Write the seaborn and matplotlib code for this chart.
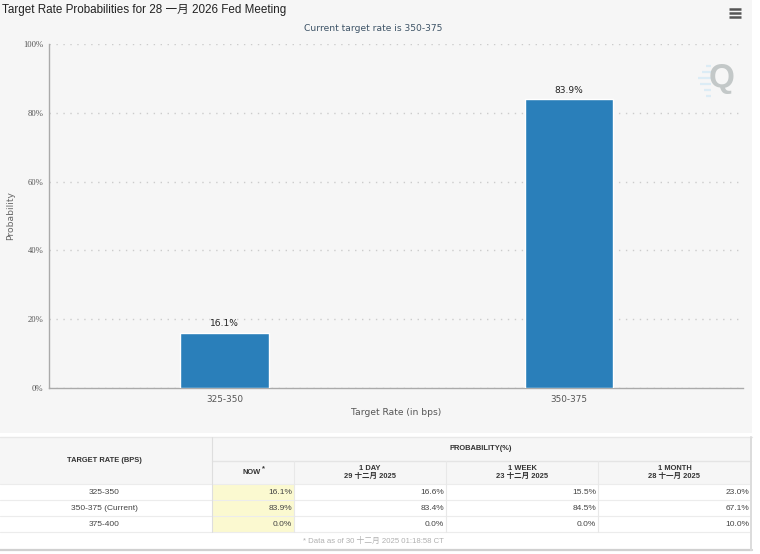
#!/usr/bin/env python3
"""Target rate probabilities bar chart with the table under it."""

import matplotlib
matplotlib.use("Agg")
import matplotlib.pyplot as plt
from matplotlib.patches import Rectangle
import pandas as pd
import seaborn as sns

W, H = 760, 554
CJK = ["Liberation Sans", "Noto Sans CJK SC", "DejaVu Sans"]

# -------------------------------
# Data
# -------------------------------
rates = ["325-350", "350-375"]
probs = [16.1, 83.9]
yticks = [0, 20, 40, 60, 80, 100]

table_rates = ["325-350", "350-375 (Current)", "375-400"]
now_vals = ["16.1%", "83.9%", "0.0%"]
day_vals = ["16.6%", "83.4%", "0.0%"]
week_vals = ["15.5%", "84.5%", "0.0%"]
month_vals = ["23.0%", "67.1%", "10.0%"]
col_heads = ["1 DAY\n29 十二月 2025", "1 WEEK\n23 十二月 2025", "1 MONTH\n28 十一月 2025"]

sns.set_theme(style="white")
plt.rcParams["font.family"] = ["DejaVu Sans", "Noto Sans CJK SC"]

fig = plt.figure(figsize=(W / 100, H / 100), dpi=100, facecolor="white")

# pixel overlay for the panel, the table and the icons
bg = fig.add_axes([0, 0, 1, 1], zorder=0)
bg.set_xlim(0, W)
bg.set_ylim(H, 0)
bg.axis("off")
bg.add_patch(Rectangle((0, 0), 752, 433, fc="#f6f6f6", ec="none"))

# -------------------------------
# Bars
# -------------------------------
ax = fig.add_axes([49 / W, 1 - 388 / H, 694 / W, 344 / H], zorder=1)
ax.patch.set_alpha(0)
df = pd.DataFrame({"rate": rates, "prob": probs})
sns.barplot(data=df, x="rate", y="prob", color="#2a7fba", saturation=1, width=0.256, ax=ax, zorder=3)
ax.set_xlim(-0.51, 1.507)
ax.set_ylim(0, 100)
ax.set_yticks(yticks)
ax.set_yticklabels([f"{t}%" for t in yticks], fontsize=6.2, color="#555555", family="Liberation Serif")
ax.tick_params(axis="y", length=3, width=0.8, color="#aaaaaa", pad=1)
ax.tick_params(axis="x", length=0, pad=5, labelsize=6.4, labelcolor="#555555")
ax.set_xlabel("Target Rate (in bps)", fontsize=6.6, color="#555555", labelpad=3)
ax.set_ylabel("Probability", fontsize=6.6, color="#666666")
ax.yaxis.set_label_coords(-34 / 694, 0.5)
ax.grid(axis="y", color="#cccccc", linestyle=(0, (1, 4)), linewidth=1, zorder=0)
sns.despine(ax=ax)
for s in ["left", "bottom"]:
    ax.spines[s].set_color("#aaaaaa")
    ax.spines[s].set_linewidth(1)
for c in ax.containers:
    ax.bar_label(c, fmt="%.1f%%", fontsize=6.6, color="#222222", padding=3)

# -------------------------------
# Title, subtitle, icons
# -------------------------------
bg.text(2, 10, "Target Rate Probabilities for 28 一月 2026 Fed Meeting", fontsize=8.4,
        color="#222222", va="center", ha="left", family=CJK)
bg.text(373, 28.5, "Current target rate is 350-375", fontsize=6.6, color="#3d5366", va="center", ha="center")
for yy in [8.5, 12.5, 16.5]:
    bg.plot([729, 741], [yy, yy], color="#555555", lw=1.8, solid_capstyle="butt")
bg.text(722, 78, "Q", fontsize=24, fontweight="bold", color="#c3c8c8", va="center", ha="center",
        family="Liberation Sans")
for yy, x0 in [(66, 706), (72, 702), (78, 698), (84, 700), (90, 704), (96, 706)]:
    bg.plot([x0, 711], [yy, yy], color="#dcecf5", lw=1.6, solid_capstyle="butt")

# -------------------------------
# Table
# -------------------------------
cols = [0, 212, 294, 446, 598, 751]
rows = [484, 500, 516, 532]
bg.add_patch(Rectangle((0, 437), 751, 47, fc="#f6f6f6", ec="none"))
bg.add_patch(Rectangle((cols[1], rows[0]), cols[2] - cols[1], rows[3] - rows[0], fc="#fbf9d0", ec="none"))
bg.plot([0, 752], [437, 437], color="#e8e8e8", lw=1)
bg.plot([cols[1], 751], [461, 461], color="#e4e4e4", lw=1)
for yy in rows:
    bg.plot([0, 751], [yy, yy], color="#ececec", lw=0.8)
bg.plot([0, 752], [550, 550], color="#d0d0d0", lw=1.6)
bg.plot([751, 751], [437, 550], color="#dcdcdc", lw=1.4)
bg.plot([cols[1], cols[1]], [437, rows[3]], color="#dedede", lw=0.8)
for xx in cols[2:5]:
    bg.plot([xx, xx], [461, rows[3]], color="#e8e8e8", lw=0.8)

hdr = dict(fontsize=5.4, fontweight="bold", color="#333333", va="center", ha="center", family=CJK)
bg.text(104, 460, "TARGET RATE (BPS)", **hdr)
bg.text(481, 449, "PROBABILITY(%)", **hdr)
bg.text(252, 472.5, "NOW", **hdr)
bg.text(263, 469, "*", **hdr)
for i, head in enumerate(col_heads):
    bg.text((cols[i + 2] + cols[i + 3]) / 2, 472.5, head, linespacing=1.15, **hdr)

cell = dict(fontsize=6, color="#444444", va="center", family="Liberation Sans")
for i, label in enumerate(table_rates):
    yy = (rows[i] + rows[i + 1]) / 2
    bg.text(104, yy, label, ha="center", **cell)
    for j, vals in enumerate([now_vals, day_vals, week_vals, month_vals]):
        bg.text(cols[j + 2] - 2, yy, vals[i], ha="right", **cell)
bg.text(373, 541, "* Data as of 30 十二月 2025 01:18:58 CT", fontsize=5.6, color="#b0b0b0",
        va="center", ha="center", family=CJK)

fig.savefig("out.png", dpi=100)
